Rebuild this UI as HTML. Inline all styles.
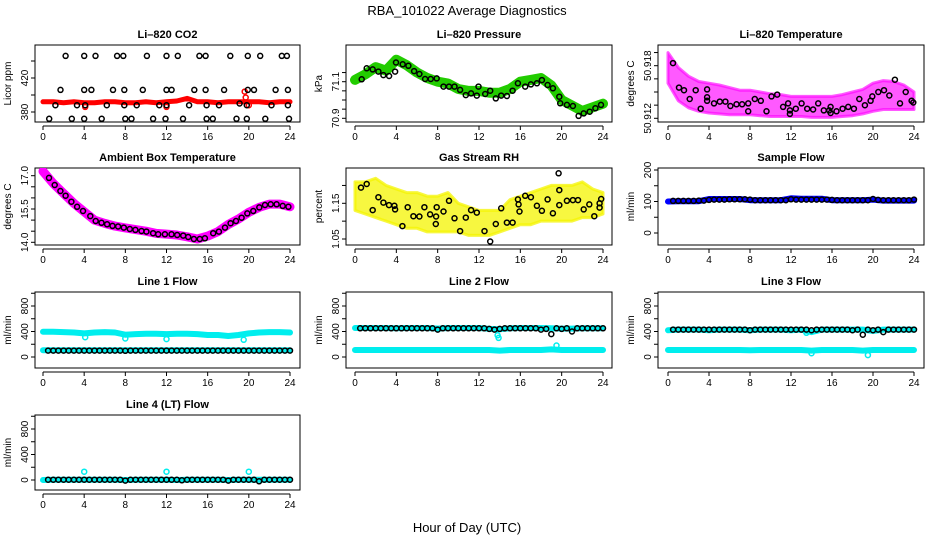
<!DOCTYPE html>
<html><head><meta charset="utf-8"><style>
html,body{margin:0;padding:0;background:#fff;}
svg{display:block;font-family:"Liberation Sans",sans-serif;}
</style></head><body>
<svg id="chart" width="936" height="540" viewBox="0 0 936 540" xmlns="http://www.w3.org/2000/svg">
<text x="467" y="15" font-size="13" text-anchor="middle">RBA_101022  Average Diagnostics</text>
<text x="467" y="532" font-size="13" text-anchor="middle">Hour of Day (UTC)</text>
</svg>
<script>
// ---------- data ----------
const hourlyHours = [0,1,2,3,4,5,6,7,8,9,10,11,12,13,14,15,16,17,18,19,20,21,22,23,24];
const halfHours = [0.5,1,1.5,2,2.5,3,3.5,4,4.5,5,5.5,6,6.5,7,7.5,8,8.5,9,9.5,10,10.5,11,11.5,12,12.5,13,13.5,14,14.5,15,15.5,16,16.5,17,17.5,18,18.5,19,19.5,20,20.5,21,21.5,22,22.5,23,23.5,24];

// CO2
const co2Red = [392,392,391,392,391,391,392,392,391,391,392,391,392,393,396,392,392,391,392,392,392,392,391,392,392];
const co2RedOutX = [19.6,19.7,20.0,4.1,12.0];
const co2RedOutY = [404,397,388,386,386];
const co2BlackX = [2.2,4.0,5.1,7.2,7.8,10.1,12.0,13.1,15.2,15.8,18.2,19.9,21.1,23.2,23.7,
 1.7,4.0,4.7,6.8,7.9,9.7,12.0,12.5,14.7,15.8,17.6,19.9,20.5,22.6,23.8,
 1.2,3.3,4.1,6.2,7.9,9.1,11.3,12.0,14.2,15.9,17.1,19.1,19.8,22.2,23.8,
 0.6,2.8,4.0,5.7,8.0,8.6,10.7,11.9,13.6,15.9,16.5,18.8,19.8,21.6,23.9];
const co2BlackY = [446,446,446,446,446,446,446,446,446,446,446,446,446,446,446,
 406,406,406,406,406,406,406,406,406,406,406,406,406,406,406,
 388,388,388,388,388,388,388,388,388,388,388,390,388,388,388,
 372,372,372,372,372,372,372,372,372,372,372,372,372,372,372];

// Pressure
const presGreen = [71.11,71.14,71.18,71.16,71.22,71.19,71.15,71.12,71.10,71.09,71.06,71.05,71.05,71.04,71.04,71.06,71.10,71.11,71.12,71.08,71.00,70.97,70.94,70.96,70.98];
const presBlackX = [0.65,1.13,1.71,2.26,2.75,3.3,3.88,3.97,4.62,5.17,5.72,6.23,6.78,7.33,7.91,8.56,9.1,9.63,10.17,10.72,11.24,11.79,11.95,12.6,13.08,13.63,14.15,14.7,15.25,15.76,16.47,17.02,17.6,18.09,18.64,19.15,19.77,19.86,20.51,21.09,21.64,22.13,22.71,23.26,23.81];
const presBlackY = [71.113,71.173,71.167,71.155,71.136,71.131,71.155,71.205,71.195,71.187,71.158,71.142,71.115,71.115,71.118,71.073,71.073,71.073,71.055,71.027,71.036,71.024,71.073,71.033,71.051,71.009,71.024,71.022,71.051,71.091,71.073,71.085,71.091,71.109,71.082,71.064,71.018,70.982,70.973,70.967,70.913,70.927,70.936,70.955,70.973];

// Li-820 temperature
const tempUpper = [50.9195,50.9178,50.9168,50.9162,50.9160,50.9158,50.9155,50.9152,50.9152,50.9150,50.9148,50.9147,50.9145,50.9145,50.9145,50.9145,50.9145,50.9147,50.9150,50.9153,50.9160,50.9163,50.9162,50.9158,50.9150];
const tempLower = [50.9160,50.9140,50.9132,50.9128,50.9126,50.9125,50.9124,50.9124,50.9124,50.9123,50.9122,50.9122,50.9122,50.9122,50.9121,50.9121,50.9121,50.9122,50.9123,50.9125,50.9128,50.9130,50.9130,50.9130,50.9130];
const tempBlackX = [0.49,1.07,1.56,2.12,2.7,3.19,3.81,3.81,3.81,4.49,5.05,5.6,6.09,6.68,7.23,7.82,7.82,8.47,9.05,9.61,10.1,10.65,11.23,11.72,11.89,11.89,12.47,13.03,13.58,14.16,14.65,15.2,15.73,15.86,15.86,16.44,17.03,17.58,18.14,18.66,19.21,19.77,19.93,20.52,21.07,21.59,22.14,22.63,23.19,23.77,23.93];
const tempBlackY = [50.9183,50.9155,50.9152,50.9142,50.9152,50.9131,50.9153,50.9144,50.914,50.9137,50.9139,50.9139,50.9134,50.9136,50.9136,50.9137,50.9128,50.9142,50.914,50.9128,50.9145,50.9147,50.9133,50.9137,50.9129,50.9125,50.9131,50.9137,50.9131,50.913,50.9137,50.9129,50.9129,50.9133,50.9126,50.9128,50.9131,50.9133,50.9131,50.9142,50.9135,50.914,50.9145,50.915,50.9152,50.9146,50.9164,50.9137,50.915,50.914,50.9138];

// Ambient temperature
const ambMagenta = [17.2,16.65,16.2,15.75,15.38,15.0,14.85,14.73,14.65,14.57,14.5,14.4,14.37,14.33,14.25,14.15,14.28,14.48,14.8,15.05,15.35,15.57,15.72,15.72,15.6];
const ambBlackX = [0.58,1.14,1.69,2.2,2.76,3.31,3.89,4.6,5.12,5.68,6.23,6.75,7.3,7.85,8.43,8.98,9.57,10.05,10.7,11.19,11.84,12.49,13.04,13.62,14.11,14.66,15.24,15.73,16.54,17.09,17.68,18.23,18.75,19.3,19.85,20.43,21.02,21.57,22.12,22.7,23.29,23.84];
const ambBlackY = [16.9,16.58,16.31,16.1,15.83,15.6,15.41,15.18,14.96,14.88,14.81,14.74,14.71,14.66,14.6,14.56,14.51,14.48,14.41,14.36,14.36,14.36,14.33,14.3,14.24,14.15,14.15,14.18,14.41,14.48,14.66,14.86,14.96,15.11,15.3,15.41,15.57,15.68,15.71,15.71,15.64,15.6];

// RH
const rhUpper = [1.21,1.21,1.22,1.20,1.19,1.18,1.18,1.17,1.17,1.18,1.15,1.14,1.13,1.13,1.13,1.16,1.17,1.18,1.19,1.20,1.20,1.20,1.21,1.19,1.18];
const rhLower = [1.13,1.12,1.11,1.10,1.09,1.08,1.08,1.07,1.07,1.07,1.07,1.06,1.06,1.06,1.07,1.08,1.09,1.09,1.10,1.10,1.10,1.10,1.11,1.11,1.12];
const rhBlackX = [0.58,1.13,1.71,2.26,2.75,3.29,3.81,3.88,4.59,5.1,5.65,6.23,6.72,7.27,7.82,7.85,7.91,8.56,9.1,9.63,10.17,10.72,11.24,11.79,12.53,13.08,13.63,14.15,14.7,15.25,15.76,15.83,15.92,16.47,17.02,17.6,18.09,18.64,19.15,19.7,19.77,19.77,20.51,21.09,21.58,22.13,22.67,23.16,23.67,23.67,23.83];
const rhBlackY = [1.194,1.204,1.131,1.167,1.152,1.145,1.143,1.133,1.086,1.139,1.114,1.113,1.139,1.119,1.092,1.113,1.139,1.127,1.157,1.108,1.072,1.11,1.131,1.124,1.072,1.043,1.092,1.136,1.096,1.096,1.161,1.147,1.127,1.171,1.167,1.143,1.129,1.161,1.122,1.234,1.187,1.145,1.157,1.159,1.159,1.133,1.147,1.114,1.138,1.15,1.162];

// Sample flow
const sampBlue = [100,101,101,101,108,108,108,108,104,104,104,104,110,109,109,109,104,104,104,104,106,103,103,103,103];
const sampBlack = [102,102,102,102,102,103,103,105,106,106,106,107,107,107,107,106,104,104,104,104,104,104,104,107,106,106,106,106,106,106,106,105,104,104,104,104,104,104,104,108,105,104,104,104,104,104,104,106];

// Line 1
const l1Upper = [395,395,390,385,370,385,390,385,350,360,365,365,360,365,365,360,345,345,330,345,370,385,390,390,385];
const l1Lower = [105,105,105,105,105,105,105,105,105,105,105,105,105,105,105,105,105,105,105,105,105,105,105,105,105];
const l1OutX = [4.1,8.0,12.0,19.5];
const l1OutY = [310,290,280,270];
const l1Black = [100,100,100,100,100,100,100,100,100,100,100,100,100,100,100,98,100,100,100,100,100,100,100,100,100,100,100,100,100,100,100,100,100,100,100,100,100,100,100,100,100,100,100,100,100,100,100,100];

// Line 2
const l2Upper = [455,455,455,455,450,455,455,455,445,455,455,455,455,440,435,450,455,455,455,450,445,445,450,450,450];
const l2Lower = [110,110,110,110,110,110,110,110,110,110,110,110,110,110,100,110,110,110,110,120,110,110,110,110,110];
const l2OutX = [13.8,13.9,19.5];
const l2OutY = [340,300,180];
const l2Black = [450,450,450,450,450,450,450,450,450,450,450,450,450,450,450,430,450,450,450,450,450,450,450,450,450,440,430,440,450,450,450,450,450,450,450,430,440,360,450,440,450,400,450,450,450,450,450,450];

// Line 3
const l3Upper = [420,430,430,430,420,430,430,430,420,430,430,430,420,430,390,430,430,430,430,430,410,430,430,430,430];
const l3Lower = [110,110,110,110,110,110,110,110,105,110,110,110,110,110,100,110,110,110,110,100,110,110,110,110,110];
const l3OutX = [14.0,19.5,13.5];
const l3OutY = [60,30,380];
const l3Black = [430,430,430,430,430,430,430,430,430,430,430,430,430,430,430,420,430,430,430,430,430,430,430,430,430,430,430,420,430,430,430,430,430,430,430,420,430,350,430,420,430,390,430,430,430,430,430,430];

// Line 4
const l4Cyan = [0,5,5,5,5,5,5,5,0,5,5,5,5,0,5,5,5,5,0,5,5,5,5,5,5];
const l4OutX = [4.0,12.0,20.0];
const l4OutY = [130,130,130];
const l4Black = [5,5,5,5,5,5,5,5,5,5,5,5,5,5,5,-10,5,5,5,5,5,5,5,5,5,5,-5,5,5,5,5,5,5,5,5,-10,5,5,5,5,5,-20,5,5,5,5,5,5];

// ---------- drawing ----------
const svg = document.getElementById('chart');
const NS = 'http://www.w3.org/2000/svg';
function mk(tag, attrs, parent){
  const e = document.createElementNS(NS, tag);
  for (const k in attrs) e.setAttribute(k, attrs[k]);
  (parent||svg).appendChild(e);
  return e;
}
const cols = [{x0:35,x1:300,h0:43,h24:290},{x0:346,x1:612,h0:355,h24:603},{x0:658,x1:924,h0:668,h24:914}];
const rows = [{y0:45,y1:122},{y0:168,y1:245},{y0:292,y1:368},{y0:415,y1:490}];

function makePanel(name, title, ylab, c, r, yref, ticks, labels, fmt){
  const col = cols[c], row = rows[r];
  const g = mk('g', {});
  
  
  const xs = h => col.h0 + (h/24)*(col.h24-col.h0);
  const ys = v => yref[1] + (v-yref[0])*(yref[3]-yref[1])/(yref[2]-yref[0]);
  const plot = mk('g', {}, g);
  
  
  const t = mk('text', {x:(col.x0+col.x1)/2, y:row.y0-7, 'font-size':11, 'font-weight':'bold', 'text-anchor':'middle'}, g);
  
  
  t.textContent = title;
  const yl = mk('text', {x:0, y:0, 'font-size':10, 'text-anchor':'middle', transform:`translate(${col.x0-24},${(row.y0+row.y1)/2}) rotate(-90)`}, g);
  
  
  yl.textContent = ylab;
  const b = mk('rect', {x:col.x0, y:row.y0, width:col.x1-col.x0, height:row.y1-row.y0, fill:'none', stroke:'#000', 'stroke-width':1}, g);
  
  
  ticks.forEach(v => {
    const y = ys(v);
    const tk = mk('line', {x1:col.x0-4, x2:col.x0, y1:y, y2:y, stroke:'#000'}, g);
    
    
  });
  labels.forEach(v => {
    const y = ys(v);
    const lb = mk('text', {x:0, y:0, 'font-size':10, 'text-anchor':'middle', transform:`translate(${col.x0-7},${y}) rotate(-90)`}, g);
    
    
    lb.textContent = fmt ? fmt(v) : String(v);
  });
  const ax = mk('line', {x1:xs(0), x2:xs(24), y1:row.y1+4, y2:row.y1+4, stroke:'#000'}, g);
  
  
  [0,4,8,12,16,20,24].forEach(h => {
    const tk = mk('line', {x1:xs(h), x2:xs(h), y1:row.y1+4, y2:row.y1+8, stroke:'#000'}, g);
    
    
    const lb = mk('text', {x:xs(h), y:row.y1+18, 'font-size':10, 'text-anchor':'middle'}, g);
    
    
    lb.textContent = String(h);
  });
  const clipId = name + '-clip';
  const cp = mk('clipPath', {id:clipId}, g);
  mk('rect', {x:col.x0, y:row.y0, width:col.x1-col.x0, height:row.y1-row.y0}, cp);
  plot.setAttribute('clip-path', `url(#${clipId})`);
  g.appendChild(plot);
  return {xs, ys, plot};
}
function band(p, name, hrs, vals, color, w){
  const d = hrs.map((h,i)=>(i?'L':'M')+p.xs(h).toFixed(1)+','+p.ys(vals[i]).toFixed(1)).join('');
  const e = mk('path', {d, fill:'none', stroke:color, 'stroke-width':w, 'stroke-linejoin':'round', 'stroke-linecap':'round'}, p.plot);
  
  
}
function area(p, name, hrs, up, lo, color, op){
  let d = hrs.map((h,i)=>(i?'L':'M')+p.xs(h).toFixed(1)+','+p.ys(up[i]).toFixed(1)).join('');
  for (let i=hrs.length-1;i>=0;i--) d += 'L'+p.xs(hrs[i]).toFixed(1)+','+p.ys(lo[i]).toFixed(1);
  d += 'Z';
  const e = mk('path', {d, fill:color, 'fill-opacity':op, stroke:color, 'stroke-opacity':op, 'stroke-width':3, 'stroke-linejoin':'round'}, p.plot);
  
  
}
function pts(p, name, xsArr, ysArr, color){
  xsArr.forEach((h,i)=>{
    const c = mk('circle', {cx:p.xs(h).toFixed(1), cy:p.ys(ysArr[i]).toFixed(1), r:2.5, fill:'none', stroke:color, 'stroke-width':1.5}, p.plot);
    
    
  });
}

let p = makePanel('co2', 'Li\u2013820 CO2', 'Licor ppm', 0, 0, [380,112,420,78], [380,400,420,440], [380,420]);
band(p, 'co2-red-band', hourlyHours, co2Red, '#ff0000', 5);
pts(p, 'co2-red-outlier', co2RedOutX, co2RedOutY, '#ff0000');
pts(p, 'co2-black-point', co2BlackX, co2BlackY, '#000');

p = makePanel('pressure', 'Li\u2013820 Pressure', 'kPa', 1, 0, [70.9,118.3,71.1,81.7], [70.9,70.95,71.0,71.05,71.1,71.15], [70.9,71.1], v=>v.toFixed(1));
band(p, 'pressure-green-band', hourlyHours, presGreen, '#22cc00', 10);
pts(p, 'pressure-black-point', presBlackX, presBlackY, '#000');

p = makePanel('li820-temp', 'Li\u2013820 Temperature', 'degrees C', 2, 0, [50.912,118.3,50.918,65.7], [50.912,50.9135,50.915,50.9165,50.918,50.9195], [50.912,50.918], v=>v.toFixed(3));
area(p, 'li820-temp-magenta-cloud', hourlyHours, tempUpper, tempLower, '#ff00ff', 0.65);
pts(p, 'li820-temp-black-point', tempBlackX, tempBlackY, '#000');

p = makePanel('ambient-temp', 'Ambient Box Temperature', 'degrees C', 0, 1, [14.0,242.3,17.0,175.7], [14,14.5,15,15.5,16,16.5,17], [14,15.5,17], v=>v.toFixed(1));
band(p, 'ambient-temp-magenta-band', hourlyHours, ambMagenta, '#ff00ff', 9);
pts(p, 'ambient-temp-black-point', ambBlackX, ambBlackY, '#000');

p = makePanel('rh', 'Gas Stream RH', 'percent', 1, 1, [1.05,239,1.15,203.3], [1.05,1.10,1.15,1.20], [1.05,1.15], v=>v.toFixed(2));
area(p, 'rh-yellow-cloud', hourlyHours, rhUpper, rhLower, '#f4f400', 0.75);
pts(p, 'rh-black-point', rhBlackX, rhBlackY, '#000');

p = makePanel('sample-flow', 'Sample Flow', 'ml/min', 2, 1, [0,233,200,170], [0,50,100,150,200], [0,100,200]);
band(p, 'sample-flow-blue-band', hourlyHours, sampBlue, '#0000ff', 6);
pts(p, 'sample-flow-black-point', halfHours, sampBlack, '#000');

p = makePanel('line1-flow', 'Line 1 Flow', 'ml/min', 0, 2, [0,357,800,306], [0,200,400,600,800,1000], [0,400,800]);
band(p, 'line1-cyan-upper', hourlyHours, l1Upper, '#00eeee', 6);
band(p, 'line1-cyan-lower', hourlyHours, l1Lower, '#00eeee', 6);
pts(p, 'line1-cyan-outlier', l1OutX, l1OutY, '#00eeee');
pts(p, 'line1-black-point', halfHours, l1Black, '#000');

p = makePanel('line2-flow', 'Line 2 Flow', 'ml/min', 1, 2, [0,357,800,306], [0,200,400,600,800,1000], [0,400,800]);
band(p, 'line2-cyan-upper', hourlyHours, l2Upper, '#00eeee', 6);
band(p, 'line2-cyan-lower', hourlyHours, l2Lower, '#00eeee', 6);
pts(p, 'line2-cyan-outlier', l2OutX, l2OutY, '#00eeee');
pts(p, 'line2-black-point', halfHours, l2Black, '#000');

p = makePanel('line3-flow', 'Line 3 Flow', 'ml/min', 2, 2, [0,357,800,306], [0,200,400,600,800,1000], [0,400,800]);
band(p, 'line3-cyan-upper', hourlyHours, l3Upper, '#00eeee', 6);
band(p, 'line3-cyan-lower', hourlyHours, l3Lower, '#00eeee', 6);
pts(p, 'line3-cyan-outlier', l3OutX, l3OutY, '#00eeee');
pts(p, 'line3-black-point', halfHours, l3Black, '#000');

p = makePanel('line4-flow', 'Line 4 (LT) Flow', 'ml/min', 0, 3, [0,480,800,429], [0,200,400,600,800,1000], [0,400,800]);
band(p, 'line4-cyan-band', hourlyHours, l4Cyan, '#00eeee', 6);
pts(p, 'line4-cyan-outlier', l4OutX, l4OutY, '#00eeee');
pts(p, 'line4-black-point', halfHours, l4Black, '#000');
</script>
</body></html>
